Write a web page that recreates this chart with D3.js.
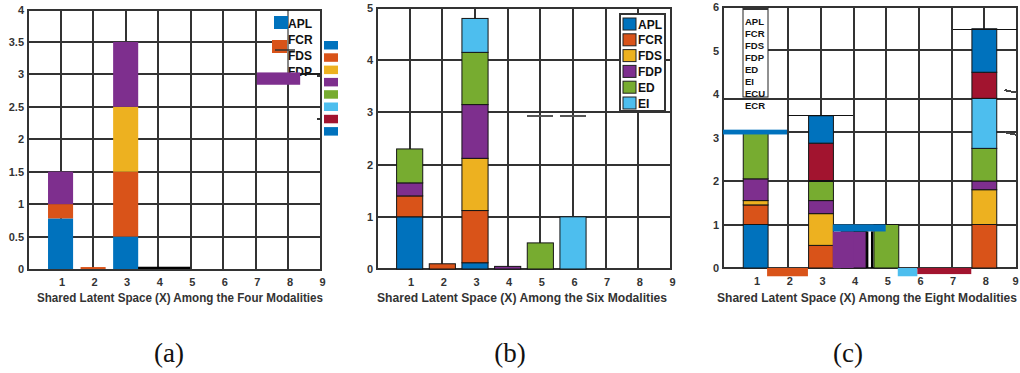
<!DOCTYPE html>
<html lang="en">
<head>
<meta charset="UTF-8">
<title>Shared Latent Space Among Modalities</title>
<script src="https://d3js.org/d3.v7.min.js"></script>
<style>
    body { margin: 0; background: #fff; }
    svg { display: block; }
</style>
</head>
<body>
<svg width="1020" height="373"></svg>
<script>
    // categories on the x axis
    const cats = [1, 2, 3, 4, 5, 6, 7, 8, 9];

    const colorOf = {
        APL: "#0072BD", FCR: "#D95319", FDS: "#EDB120", FDP: "#7E2F8E",
        ED: "#77AC30", EI: "#4DBEEE", ECU: "#A2142F", ECR: "#0072BD"
    };

    // (a) four modalities
    const aSeries = ["APL", "FCR", "FDS", "FDP"];
    const aAPL = [0.78, 0, 0.5, 0, 0, 0, 0, 0, 0];
    const aFCR = [0.22, 0.03, 1.0, 0, 0, 0, 0, 0, 0];
    const aFDS = [0, 0, 1.0, 0, 0, 0, 0, 0, 0];
    const aFDP = [0.5, 0, 1.0, 0, 0, 0, 0, 0, 0];
    const aTicks = [0, 0.5, 1, 1.5, 2, 2.5, 3, 3.5, 4];

    // (b) six modalities
    const bSeries = ["APL", "FCR", "FDS", "FDP", "ED", "EI"];
    const bAPL = [1.0, 0, 0.12, 0, 0, 0, 0, 0, 0];
    const bFCR = [0.4, 0.1, 1.0, 0, 0, 0, 0, 0, 0];
    const bFDS = [0, 0, 1.0, 0, 0, 0, 0, 0, 0];
    const bFDP = [0.25, 0, 1.03, 0.05, 0, 0, 0, 0, 0];
    const bED = [0.65, 0, 1.0, 0, 0.5, 0, 0, 0, 0];
    const bEI = [0, 0, 0.65, 0, 0, 1.0, 0, 0, 0];
    const bTicks = [0, 1, 2, 3, 4, 5];

    // (c) eight modalities
    const cSeries = ["APL", "FCR", "FDS", "FDP", "ED", "EI", "ECU", "ECR"];
    const cAPL = [1.0, 0, 0, 0, 0, 0, 0, 0, 0];
    const cFCR = [0.45, 0, 0.52, 0, 0, 0, 0, 1.0, 0];
    const cFDS = [0.1, 0, 0.73, 0, 0, 0, 0, 0.8, 0];
    const cFDP = [0.5, 0, 0.3, 0.84, 0, 0, 0, 0.2, 0];
    const cED = [1.05, 0, 0.45, 0, 1.0, 0, 0, 0.75, 0];
    const cEI = [0, 0, 0, 0, 0, 0, 0, 1.15, 0];
    const cECU = [0, 0, 0.87, 0, 0, 0, 0, 0.6, 0];
    const cECR = [0, 0, 0.63, 0, 0, 0, 0, 1.0, 0];
    const cTicks = [0, 1, 2, 3, 4, 5, 6];

    const svg = d3.select("svg");
    const gridColor = "#333";
    const sans = "Arial, 'Liberation Sans', sans-serif";

    function rowsOf(series, arrays) {
        return cats.map((c, i) => {
            const r = { cat: c };
            series.forEach((s, k) => r[s] = arrays[k][i]);
            return r;
        });
    }

    function drawPanel(p) {
        const g = svg.append("g");
        const x = d3.scaleLinear().domain([0, 9]).range([p.left, p.right]);
        const y = d3.scaleLinear().domain([0, p.yMax]).range([p.bottom, p.top]);
        p.x = x; p.y = y; p.g = g;

        // grid, snapped to whole pixels so it stays solid
        const grid = g.append("g").attr("class", "grid")
            .attr("stroke", gridColor).attr("stroke-width", 2)
            .attr("shape-rendering", "crispEdges");
        grid.selectAll("line.v").data(p.gridV).join("line")
            .attr("class", "v")
            .attr("x1", d => Math.round(x(d[0]))).attr("x2", d => Math.round(x(d[0])))
            .attr("y1", d => Math.round(y(d[1]))).attr("y2", d => Math.round(y(d[2])));
        grid.selectAll("line.h").data(p.gridH).join("line")
            .attr("class", "h")
            .attr("x1", d => Math.round(x(d[1]))).attr("x2", d => Math.round(x(d[2])))
            .attr("y1", d => Math.round(y(d[0]))).attr("y2", d => Math.round(y(d[0])));

        // box
        g.append("rect")
            .attr("x", Math.round(x(0))).attr("y", Math.round(y(p.yMax)))
            .attr("width", Math.round(x(9) - x(0))).attr("height", Math.round(y(0) - y(p.yMax)))
            .attr("fill", "none").attr("stroke", gridColor).attr("stroke-width", 2)
            .attr("shape-rendering", "crispEdges");

        // stacked bars
        const stack = d3.stack().keys(p.series).offset(d3.stackOffsetDiverging)(p.rows);
        stack.forEach(layer => {
            g.append("g").selectAll("rect")
                .data(layer.filter(d => d[1] - d[0] > 0))
                .join("rect")
                .attr("x", d => x(d.data.cat - p.barW / 2))
                .attr("width", x(p.barW) - x(0))
                .attr("y", d => y(d[1]))
                .attr("height", d => y(d[0]) - y(d[1]))
                .attr("fill", colorOf[layer.key])
                .attr("stroke", p.edge ? "#151515" : "none")
                .attr("stroke-width", p.edge ? 1 : 0);
        });

        // leftovers of the export, in data units
        g.append("g").selectAll("rect").data(p.glitches || []).join("rect")
            .attr("x", r => x(r[0])).attr("width", r => x(r[1]) - x(r[0]))
            .attr("y", r => y(r[3])).attr("height", r => y(r[2]) - y(r[3]))
            .attr("fill", r => r[4]);
        g.append("g").attr("shape-rendering", "crispEdges")
            .selectAll("line").data(p.glitchLines || []).join("line")
            .attr("x1", l => x(l[0])).attr("x2", l => x(l[1]))
            .attr("y1", l => y(l[2])).attr("y2", l => y(l[3]))
            .attr("stroke", l => l[4]).attr("stroke-width", l => l[5]);

        // axes
        const xa = g.append("g")
            .attr("transform", `translate(1,${p.bottom})`)
            .call(d3.axisBottom(x).tickValues(cats).tickSize(0).tickPadding(9));
        xa.select(".domain").remove();
        xa.selectAll("text").attr("font-size", 11).attr("font-weight", "bold")
            .attr("fill", "#333").style("font-family", sans)
            .attr("dx", d => d === 9 ? (p.lastDx || 0) : 0);

        const ya = g.append("g")
            .attr("transform", `translate(${p.left},0)`)
            .call(d3.axisLeft(y).tickValues(p.yTicks).tickSize(0).tickPadding(4).tickFormat(d3.format("~g")));
        ya.select(".domain").remove();
        ya.selectAll("text").attr("font-size", 11).attr("font-weight", "bold")
            .attr("fill", "#333").style("font-family", sans);

        // axis title
        g.append("text")
            .attr("x", p.titleX).attr("y", 302)
            .attr("text-anchor", "middle")
            .style("font-family", sans)
            .attr("font-size", 12).attr("font-weight", "bold").attr("fill", "#333")
            .attr("textLength", p.titleW).attr("lengthAdjust", "spacingAndGlyphs")
            .text(p.title);

        // caption
        g.append("text")
            .attr("x", p.capX).attr("y", 362)
            .attr("text-anchor", "middle")
            .style("font-family", "'Liberation Serif', 'Times New Roman', serif")
            .attr("font-size", 27).attr("fill", "#111")
            .text(p.caption);
    }

    const intGrid = (lo, hi) => d3.range(lo, hi + 1);

    // ---------- (a)
    const pa = {
        left: 28, right: 321, top: 9.5, bottom: 269, yMax: 4, barW: 0.77, edge: false,
        series: aSeries, rows: rowsOf(aSeries, [aAPL, aFCR, aFDS, aFDP]), yTicks: aTicks,
        gridV: intGrid(1, 8).map(v => [v, 0, 4]),
        gridH: aTicks.slice(1, -1).map(v => [v, 0, 9]),
        glitches: [
            [3.38, 4.98, 0, 0.035, "#000"]
        ],
        title: "Shared Latent Space (X) Among the Four  Modalities", titleX: 180, titleW: 286,
        caption: "(a)", capX: 169
    };
    drawPanel(pa);

    // legend (a), partly overdrawn
    const la = pa.g.append("g");
    la.append("rect").attr("x", 272).attr("y", 11).attr("width", 48).attr("height", 62).attr("fill", "#fff");
    la.append("line").attr("x1", 288).attr("x2", 288).attr("y1", 10).attr("y2", 74).attr("stroke", "#111").attr("stroke-width", 1);
    la.append("line").attr("x1", 288).attr("x2", 320).attr("y1", 74).attr("y2", 74).attr("stroke", "#111").attr("stroke-width", 1.2);
    la.append("rect").attr("x", 274).attr("y", 16).attr("width", 14).attr("height", 13).attr("fill", colorOf.APL);
    la.append("rect").attr("x", 272).attr("y", 40).attr("width", 15).attr("height", 13).attr("fill", colorOf.FCR);
    la.append("line").attr("x1", 275).attr("x2", 295).attr("y1", 50).attr("y2", 50).attr("stroke", "#333").attr("stroke-width", 1.5);
    la.append("g").selectAll("text").data(aSeries).join("text")
        .attr("x", 288).attr("y", (d, i) => 28 + i * 16)
        .style("font-family", sans)
        .attr("font-size", 12).attr("font-weight", "bold").attr("fill", "#111")
        .text(d => d);
    // purple strip over the last legend entry
    la.append("rect")
        .attr("x", pa.x(7.03)).attr("width", pa.x(8.36) - pa.x(7.03))
        .attr("y", pa.y(3.03)).attr("height", pa.y(2.84) - pa.y(3.03))
        .attr("fill", colorOf.FDP);
    // stray swatch column right of (a)
    la.append("g").selectAll("rect").data(cSeries).join("rect")
        .attr("x", 324).attr("y", (d, i) => 41 + i * 12.3)
        .attr("width", 14).attr("height", 8.5)
        .attr("fill", d => colorOf[d]);
    la.append("g").selectAll("line").data([76, 119]).join("line")
        .attr("x1", 317).attr("x2", 322).attr("y1", d => d).attr("y2", d => d)
        .attr("stroke", "#333").attr("stroke-width", 2);

    // ---------- (b)
    const pb = {
        left: 377, right: 671, top: 8, bottom: 269, yMax: 5, barW: 0.8, edge: true,
        series: bSeries, rows: rowsOf(bSeries, [bAPL, bFCR, bFDS, bFDP, bED, bEI]), yTicks: bTicks,
        gridV: intGrid(1, 8).map(v => [v, 0, 5]),
        gridH: bTicks.slice(1, -1).map(v => [v, 0, 9]),
        glitchLines: [
            [4.59, 5.39, 2.93, 2.93, "#555", 1.5],
            [5.6, 6.4, 2.93, 2.93, "#555", 1.5]
        ],
        title: "Shared Latent Space (X) Among the Six  Modalities", titleX: 522, titleW: 290,
        caption: "(b)", capX: 510
    };
    drawPanel(pb);
    const lbBox = pb.g.append("g");
    lbBox.append("rect").attr("x", 620).attr("y", 14).attr("width", 45).attr("height", 97)
        .attr("fill", "#fff").attr("stroke", "#333").attr("stroke-width", 2)
        .attr("shape-rendering", "crispEdges");
    const lb = lbBox.append("g").selectAll("g").data(bSeries).join("g")
        .attr("transform", (d, i) => `translate(623,${24 + i * 15.8})`);
    lb.append("rect").attr("x", 0).attr("y", -6).attr("width", 13).attr("height", 12)
        .attr("fill", d => colorOf[d]).attr("stroke", "#222").attr("stroke-width", 1);
    lb.append("text").attr("x", 15).attr("y", 4.5)
        .style("font-family", sans)
        .attr("font-size", 12).attr("font-weight", "bold").attr("fill", "#111")
        .text(d => d);

    // ---------- (c)
    const pc = {
        left: 723, right: 1017, top: 7, bottom: 268, yMax: 6, barW: 0.76, edge: true, lastDx: -3,
        series: cSeries, rows: rowsOf(cSeries, [cAPL, cFCR, cFDS, cFDP, cED, cEI, cECU, cECR]), yTicks: cTicks,
        gridV: intGrid(2, 8).map(v => [v, 0, 6]),
        gridH: [[1, 0, 9], [2, 0, 9], [3.13, 0, 9], [3.89, 0, 9], [5, 1.35, 9]],
        glitches: [
            [0, 1.96, 3.07, 3.18, colorOf.ECR],
            [3.36, 4.0, 0, 0.84, colorOf.FDP],
            [3.36, 4.98, 0.84, 1.0, colorOf.APL],
            [4.38, 4.45, 0, 0.84, "#000"],
            [4.53, 4.6, 0, 0.84, "#000"],
            [1.35, 2.6, -0.19, 0, colorOf.FCR],
            [5.35, 5.95, -0.19, 0, colorOf.EI],
            [5.95, 7.6, -0.14, 0, colorOf.ECU]
        ],
        glitchLines: [
            [7.03, 9, 5.48, 5.48, "#111", 1.2],
            [2.0, 3.97, 3.5, 3.5, "#111", 1.2],
            [2.62, 3.38, 2.0, 2.0, "#111", 1.5],
            [8.62, 9, 4.09, 4.03, "#444", 2],
            [8.62, 9, 3.12, 3.06, "#444", 2]
        ],
        title: "Shared Latent Space (X) Among the Eight  Modalities", titleX: 867, titleW: 300,
        caption: "(c)", capX: 848
    };
    drawPanel(pc);
    const lc = pc.g.append("g");
    lc.append("rect").attr("x", 743).attr("y", 7).attr("width", 25).attr("height", 90)
        .attr("fill", "#fff").attr("stroke", "#222").attr("stroke-width", 1);
    lc.append("rect").attr("x", 743).attr("y", 6).attr("width", 25).attr("height", 4).attr("fill", "#333");
    lc.append("g").selectAll("text").data(cSeries).join("text")
        .attr("x", 745).attr("y", (d, i) => 24.5 + i * 12)
        .style("font-family", sans)
        .attr("font-size", 9.5).attr("font-weight", "bold").attr("fill", "#111")
        .text(d => d);
</script>
</body>
</html>
